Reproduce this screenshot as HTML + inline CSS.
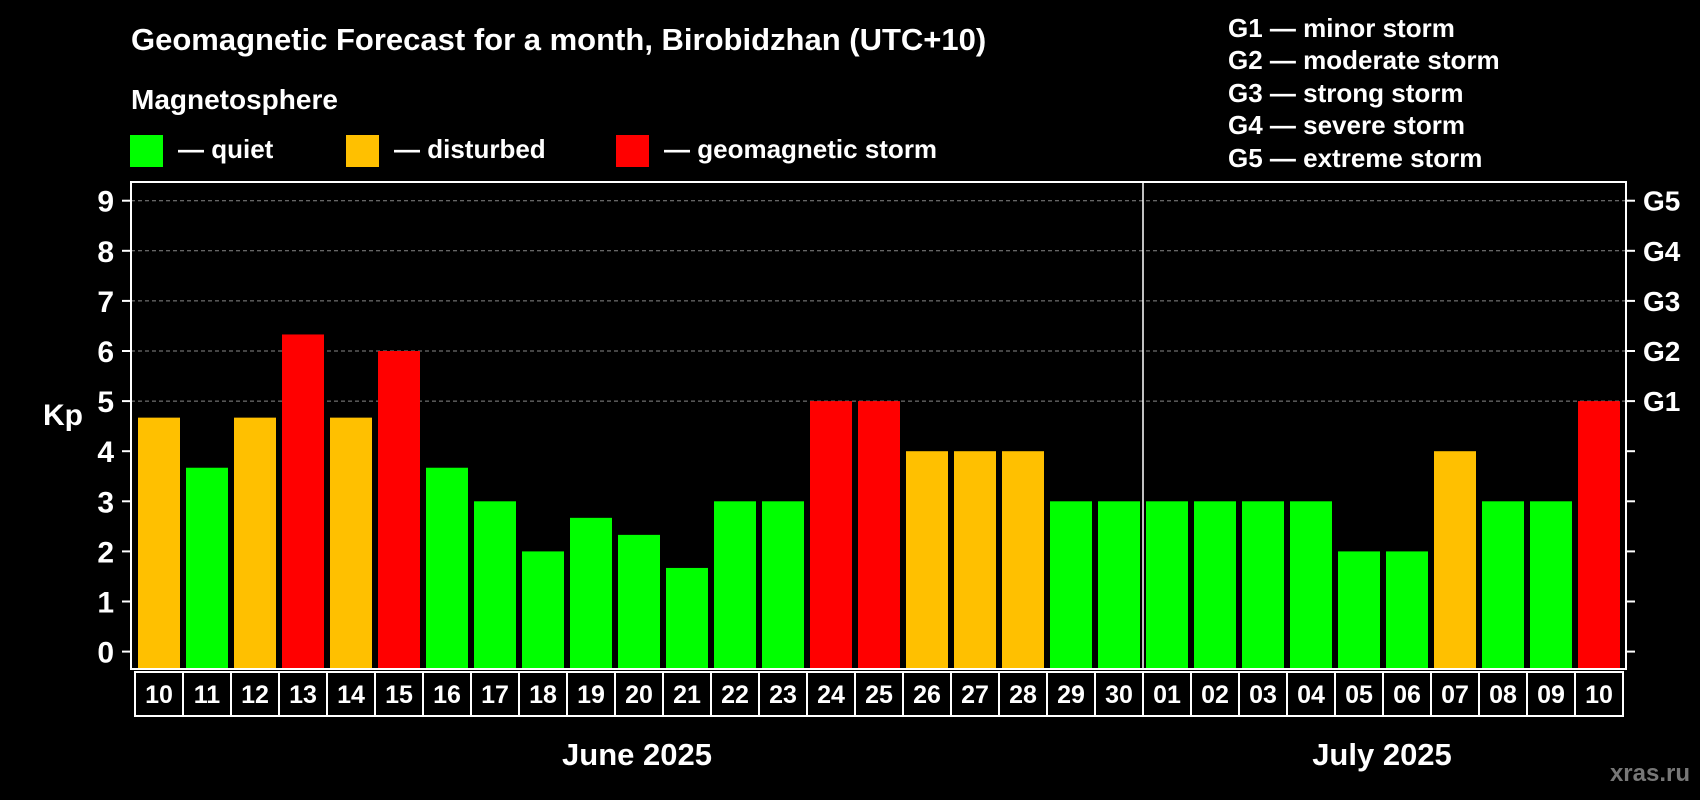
<!DOCTYPE html>
<html><head><meta charset="utf-8"><style>
html,body{margin:0;padding:0;background:#000;}
svg{display:block;font-family:"Liberation Sans",Arial,sans-serif;font-weight:bold;}
</style></head><body>
<svg id="chart" width="1700" height="800" viewBox="0 0 1700 800">
<rect x="0" y="0" width="1700" height="800" fill="#000"/>
<text x="131" y="50" font-size="31" fill="#fff">Geomagnetic Forecast for a month, Birobidzhan (UTC+10)</text>
<text x="131" y="109" font-size="28" fill="#fff">Magnetosphere</text>
<g><rect x="130" y="135" width="33" height="32" fill="#00ff00"/><text x="178" y="158" font-size="26" fill="#fff">— quiet</text></g>
<g><rect x="346" y="135" width="33" height="32" fill="#ffc000"/><text x="394" y="158" font-size="26" fill="#fff">— disturbed</text></g>
<g><rect x="616" y="135" width="33" height="32" fill="#ff0000"/><text x="664" y="158" font-size="26" fill="#fff">— geomagnetic storm</text></g>
<g font-size="26" fill="#fff">
<text x="1228" y="37">G1 — minor storm</text>
<text x="1228" y="69">G2 — moderate storm</text>
<text x="1228" y="102">G3 — strong storm</text>
<text x="1228" y="134">G4 — severe storm</text>
<text x="1228" y="167">G5 — extreme storm</text>
</g>
<text x="43" y="425" font-size="30" fill="#fff">Kp</text>
<g id="grid"></g>
<g id="bars"></g>
<rect x="131" y="182" width="1495" height="487" fill="none" stroke="#fff" stroke-width="2"/>
<g id="axes"></g>
<text x="637" y="765" font-size="31" fill="#fff" text-anchor="middle">June 2025</text>
<text x="1382" y="765" font-size="31" fill="#fff" text-anchor="middle">July 2025</text>
<text x="1690" y="781" font-size="24" fill="#777" text-anchor="end">xras.ru</text>
</svg>
<script>
const days = ["10","11","12","13","14","15","16","17","18","19","20","21","22","23","24","25","26","27","28","29","30","01","02","03","04","05","06","07","08","09","10"];
const kpValues = [4.67,3.67,4.67,6.33,4.67,6,3.67,3,2,2.67,2.33,1.67,3,3,5,5,4,4,4,3,3,3,3,3,3,2,2,4,3,3,5];
const yTicks = [0,1,2,3,4,5,6,7,8,9];
const gLabels = ["G1","G2","G3","G4","G5"];
const gLevels = [5,6,7,8,9];
const monthSplitIndex = 21;

const NS = "http://www.w3.org/2000/svg";
const plotL = 131, plotR = 1626, y0 = 651.6, unit = 50.1, step = 48, barW = 42, firstX = 138, plotB = 669;
const yScale = v => y0 - v*unit;
const xScale = i => firstX + i*step;
function mk(tag, attrs, parent){const e=document.createElementNS(NS,tag);for(const k in attrs)e.setAttribute(k,attrs[k]);parent.appendChild(e);return e;}
const grid=document.getElementById('grid'), bars=document.getElementById('bars'), axes=document.getElementById('axes');

gLevels.forEach((lv,i)=>{
  const l=mk('line',{x1:plotL,x2:plotR,y1:yScale(lv),y2:yScale(lv),stroke:'#888','stroke-width':1,'stroke-dasharray':'4,3'},grid);
  
  
  const t=mk('text',{x:1643,y:yScale(lv)+10,'font-size':28,fill:'#fff'},axes);
  t.textContent=gLabels[i];
  
  
});
yTicks.forEach(v=>{
  const y=yScale(v);
  const a=mk('line',{x1:122,x2:plotL,y1:y,y2:y,stroke:'#fff','stroke-width':2},axes);
  
  
  const b=mk('line',{x1:plotR,x2:plotR+9,y1:y,y2:y,stroke:'#fff','stroke-width':2},axes);
  
  
  const t=mk('text',{x:114,y:y+11,'font-size':30,fill:'#fff','text-anchor':'end'},axes);
  t.textContent=v;
  
  
});
kpValues.forEach((v,i)=>{
  const col = v>=5 ? '#ff0000' : (v>=4 ? '#ffc000' : '#00ff00');
  const r=mk('rect',{x:xScale(i),y:yScale(v),width:barW,height:plotB-yScale(v),fill:col},bars);
  
  
  const bx=xScale(i)-3;
  const box=mk('rect',{x:bx,y:672,width:step,height:44,fill:'none',stroke:'#fff','stroke-width':2},axes);
  
  
  const t=mk('text',{x:bx+step/2,y:703,'font-size':25,fill:'#fff','text-anchor':'middle'},axes);
  t.textContent=days[i];
  
  
});
const sx = xScale(monthSplitIndex)-3;
const d=mk('line',{x1:sx,x2:sx,y1:182,y2:669,stroke:'#fff','stroke-width':1.5},axes);


</script>
</body></html>
